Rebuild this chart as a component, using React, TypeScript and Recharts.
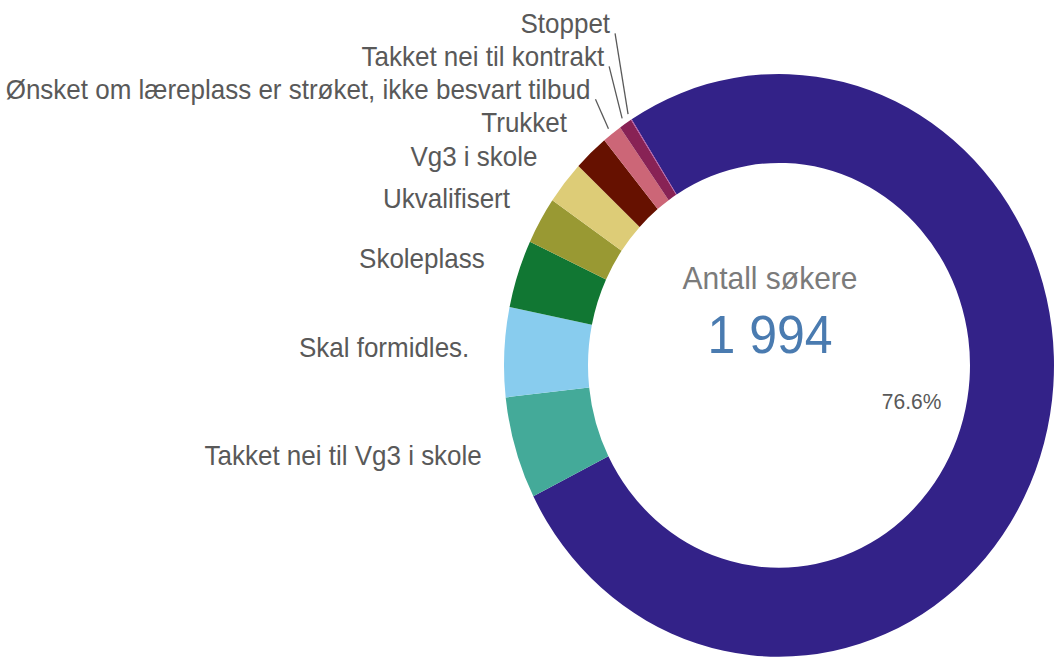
import React from 'react';
import { PieChart, Pie, Cell } from 'recharts';

const categories: string[] = [
  'Lærekontrakt',
  'Takket nei til Vg3 i skole',
  'Skal formidles.',
  'Skoleplass',
  'Ukvalifisert',
  'Vg3 i skole',
  'Trukket',
  'Ønsket om læreplass er strøket, ikke besvart tilbud',
  'Takket nei til kontrakt',
  'Stoppet',
];
const values: number[] = [1527, 113, 99, 75, 52, 48, 41, 23, 15, 1];
const colors: string[] = [
  '#332288', '#44aa99', '#88ccee', '#117733', '#999933',
  '#ddcc77', '#661100', '#cc6677', '#882255', '#aa4499',
];
const centerTitle = 'Antall søkere';

const data = categories.map((name, i) => ({ name, value: values[i] }));
const total = values.reduce((a, b) => a + b, 0);

const START = 122.4;
const SMALL = 0.015;
const STEP = 31;
const FONT = '"Liberation Sans", Arial, sans-serif';
const RAD = Math.PI / 180;

const polar = (cx: number, cy: number, r: number, a: number) => ({
  x: cx + r * Math.cos(-a * RAD),
  y: cy + r * Math.sin(-a * RAD),
});

const midAngleOf = (j: number) => {
  let before = 0;
  for (let k = 0; k < j; k++) before += values[k];
  return START - ((before + values[j] / 2) / total) * 360;
};

const fmt = (n: number) => String(n).replace(/\B(?=(\d{3})+(?!\d))/g, ' ');

const renderLabel = (props: any) => {
  const { cx, cy, midAngle, innerRadius, outerRadius, index } = props;
  if (index === 0) {
    const p = polar(cx, cy, innerRadius * 0.72, midAngle);
    const pct = ((values[0] / total) * 100).toFixed(1) + '%';
    return (
      <g>
        <text x={cx - 9} y={cy - 72} textAnchor="middle" fontSize={30} fill="#7b7b7b" fontFamily={FONT}>
          {centerTitle}
        </text>
        <text x={cx - 9} y={cy - 12} textAnchor="middle" fontSize={50} fill="#4a7bb0" fontFamily={FONT}>
          {fmt(total)}
        </text>
        <text x={p.x} y={p.y + 5} textAnchor="middle" fontSize={21} fill="#595959" fontFamily={FONT}>
          {pct}
        </text>
      </g>
    );
  }
  const share = values[index] / total;
  const left = Math.cos(midAngle * RAD) < 0;
  const anchor = left ? 'end' : 'start';
  if (share >= SMALL) {
    const p = polar(cx, cy, outerRadius + 35, midAngle);
    return (
      <text x={p.x} y={p.y + 6} textAnchor={anchor} fontSize={26} fill="#595959" fontFamily={FONT}>
        {categories[index]}
      </text>
    );
  }
  let j = index;
  while (j > 0 && values[j] / total < SMALL) j--;
  const mj = midAngleOf(j);
  const baseY = cy - (outerRadius + 35) * Math.sin(mj * RAD) + 6;
  const ty = baseY - STEP * (index - j);
  const a = polar(cx, cy, outerRadius + 6, midAngle);
  const lx = left ? a.x - 13 : a.x + 13;
  return (
    <g>
      <line x1={lx} y1={ty} x2={a.x} y2={a.y} stroke="#595959" strokeWidth={1.3} />
      <text x={left ? lx - 5 : lx + 5} y={ty} textAnchor={anchor} fontSize={26} fill="#595959" fontFamily={FONT}>
        {categories[index]}
      </text>
    </g>
  );
};

export default function App() {
  return (
    <div style={{ position: 'absolute', left: 0, top: 0, width: 1055, height: 658, overflow: 'hidden', background: '#fff' }}>
      <div style={{ transform: 'scaleY(1.0596)', transformOrigin: '0 0' }}>
        <PieChart width={1055} height={621} margin={{ top: 0, right: 0, bottom: 0, left: 0 }}>
          <Pie
            data={data}
            dataKey="value"
            nameKey="name"
            cx={779}
            cy={344.8}
            innerRadius={191}
            outerRadius={275}
            startAngle={START}
            endAngle={START - 360}
            stroke="none"
            label={renderLabel}
            labelLine={false}
            isAnimationActive={false}
          >
            {data.map((d, i) => (
              <Cell key={d.name} fill={colors[i]} />
            ))}
          </Pie>
        </PieChart>
      </div>
    </div>
  );
}
